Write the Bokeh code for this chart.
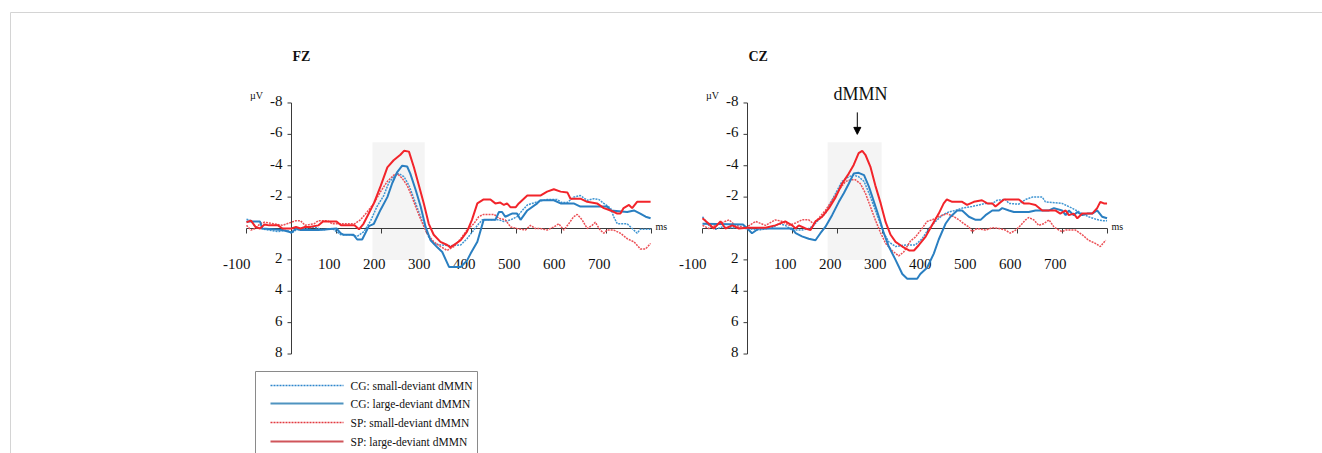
from bokeh.plotting import figure
from bokeh.models import Range1d, Arrow, NormalHead
from bokeh.core.properties import value
from bokeh.embed import file_html
from bokeh.resources import INLINE

# ---------------- data (ms, microvolts; negative plotted upward) ----------------
x_tick_labels = [-100, 100, 200, 300, 400, 500, 600, 700]
x_tick_marks = [-100, 100, 200, 300, 400, 500, 600, 700, 800]
y_tick_labels = [-8, -6, -4, -2, 2, 4, 6, 8]

series_names = ["CG: small-deviant dMMN", "CG: large-deviant dMMN",
                "SP: small-deviant dMMN", "SP: large-deviant dMMN"]

fz_window = [180, 296]
cz_window = [178, 298]
window_uv = [-5.5, 2.0]

# FZ
fz_cg_large_t = [-100, -70, -65, -20, 0, 10, 20, 60, 100, 109, 116, 138, 146, 157, 164, 172, 183, 198, 213, 224,
                 235, 246, 257, 264, 276, 287, 298, 309, 324, 335, 350, 376, 390, 398, 413, 427, 453, 461, 468, 475,
                 490, 501, 509, 524, 546, 553, 583, 598, 627, 642, 701, 709, 746, 761, 775, 787, 798]
fz_cg_large_v = [-0.45, -0.45, 0, 0.1, 0.25, 0, 0.1, 0.1, 0, 0.3, 0.4, 0.4, 0.7, 0.7, 0.3, -0.15, -0.3, -1.2, -2.0, -2.9,
                 -3.6, -4.0, -3.95, -3.5, -2.45, -1.4, -0.1, 0.75, 1.2, 1.5, 2.45, 2.45, 2.05, 1.6, 0.85, -0.55, -0.55, -1.05, -1.05, -0.75,
                 -0.95, -0.95, -0.55, -1.15, -1.6, -1.8, -1.8, -1.6, -1.6, -1.4, -1.4, -1.15, -1.05, -1.15, -0.95, -0.75, -0.65]

fz_sp_large_t = [-100, -90, -80, -70, -60, -50, -30, -20, 0, 10, 20, 30, 40, 60, 70, 100, 110, 140, 150, 160,
                 168, 183, 198, 213, 227, 242, 250, 261, 272, 283, 294, 305, 316, 331, 346, 353, 376, 390, 401, 413,
                 427, 442, 453, 464, 472, 479, 487, 498, 505, 524, 553, 568, 583, 598, 613, 620, 642, 657, 679, 694,
                 709, 724, 731, 738, 750, 757, 768, 798]
fz_sp_large_v = [-0.4, -0.5, -0.1, 0, -0.25, -0.2, -0.2, 0, 0, -0.1, 0, -0.1, -0.1, -0.2, -0.45, -0.45, -0.2, -0.2, 0.05, -0.3,
                 -0.75, -1.6, -2.7, -3.9, -4.35, -4.7, -4.95, -4.9, -3.9, -2.75, -1.6, -0.3, 0.4, 0.85, 1.05, 1.2, 0.75, 0.2, -0.55, -1.6,
                 -1.85, -1.85, -1.6, -1.65, -1.5, -1.6, -1.35, -1.35, -1.6, -2.1, -2.1, -2.35, -2.5, -2.35, -2.3, -1.9, -1.9, -1.7, -1.6, -1.3,
                 -1.15, -0.95, -0.95, -1.3, -1.5, -1.3, -1.7, -1.7]

fz_cg_small_t = [-100, -90, -80, -70, -50, -30, -10, 0, 10, 30, 50, 70, 90, 100, 110, 130, 146, 161, 176, 190,
                 205, 216, 227, 238, 250, 261, 272, 283, 294, 305, 316, 331, 353, 376, 390, 405, 416, 424, 446, 461,
                 472, 487, 501, 513, 524, 546, 568, 590, 601, 613, 627, 642, 657, 672, 683, 694, 709, 716, 724, 746,
                 757, 768, 775, 798]
fz_cg_small_v = [-0.6, -0.5, -0.1, 0, 0.1, 0.2, 0.1, 0.3, 0.1, 0, -0.1, 0.1, 0, 0.2, 0.4, 0.4, 0.5, 0.2, -0.5, -1.4,
                 -2.1, -2.9, -3.3, -3.5, -3.3, -2.75, -1.9, -1.05, -0.2, 0.55, 0.95, 1.05, 1.1, 1.05, 0.65, 0.1, -0.3, -0.55, -0.55, -0.55,
                 -0.45, -0.55, -0.75, -1.15, -1.5, -1.7, -1.85, -1.85, -1.65, -1.65, -2.0, -2.1, -1.8, -1.9, -1.85, -1.6, -1.3, -0.75, -0.3, -0.3,
                 0, 0.3, 0.05, 0.05]

fz_sp_small_t = [-100, -90, -80, -70, -60, -40, -20, 0, 10, 20, 30, 50, 60, 80, 90, 100, 120, 140, 153, 168,
                 183, 198, 213, 227, 235, 246, 257, 268, 279, 290, 301, 316, 331, 346, 361, 376, 390, 405, 416, 427,
                 450, 461, 475, 487, 501, 520, 531, 542, 553, 568, 583, 594, 605, 616, 627, 635, 646, 657, 668, 675,
                 686, 694, 701, 716, 731, 746, 761, 775, 787, 798]
fz_sp_small_v = [-0.2, 0.1, 0, -0.3, -0.4, -0.3, -0.2, -0.4, -0.5, -0.5, -0.2, -0.3, -0.5, -0.5, -0.3, -0.3, -0.3, -0.3, -0.55, -1.05,
                 -1.6, -2.35, -3.0, -3.4, -3.5, -3.2, -2.75, -2.0, -1.15, -0.4, 0.3, 0.85, 1.15, 1.4, 1.15, 0.65, 0.1, -0.3, -0.75, -0.9,
                 -0.9, -0.65, -0.55, -0.1, 0, 0.1, -0.2, 0, 0, 0.1, -0.1, -0.3, 0.1, -0.3, -0.75, -0.9, -0.55, 0, -0.2, -0.4,
                 0.1, 0.3, 0.1, 0.1, 0.3, 0.65, 0.85, 1.3, 1.3, 0.95]

# CZ
cz_cg_large_t = [-100, -10, 3, 10, 25, 50, 99, 107, 121, 136, 151, 162, 173, 188, 203, 214, 225, 236, 247, 259,
                 270, 281, 292, 303, 314, 329, 344, 355, 377, 384, 399, 414, 425, 440, 451, 466, 477, 492, 507, 518,
                 529, 544, 559, 566, 581, 592, 625, 640, 670, 681, 699, 707, 714, 725, 733, 744, 755, 766, 777, 788,
                 799]
cz_cg_large_v = [-0.3, -0.25, 0.1, 0.3, 0, 0, 0, 0.3, 0.5, 0.65, 0.75, 0.3, -0.1, -0.85, -1.7, -2.25, -2.85, -3.5, -3.55, -3.4,
                 -2.65, -1.7, -0.75, 0.3, 1.15, 2.0, 2.9, 3.2, 3.2, 2.9, 2.5, 1.6, 0.7, -0.3, -0.75, -1.15, -1.15, -0.75, -0.55, -0.55,
                 -0.85, -1.15, -1.15, -1.3, -1.15, -1.05, -1.05, -1.15, -1.15, -1.3, -1.15, -0.85, -1.15, -0.85, -1.05, -0.85, -0.95, -0.95, -1.15, -0.75,
                 -0.65]

cz_sp_large_t = [-100, -86, -75, -60, -49, -34, -19, 0, 40, 62, 84, 99, 107, 114, 129, 140, 151, 166, 181, 196,
                 210, 225, 236, 247, 255, 262, 273, 284, 296, 307, 318, 329, 344, 359, 370, 381, 395, 410, 425, 436,
                 443, 455, 477, 488, 503, 521, 533, 544, 551, 559, 570, 603, 614, 625, 640, 655, 684, 695, 707, 714,
                 725, 733, 744, 766, 777, 784, 792, 799]
cz_sp_large_v = [-0.65, -0.3, 0, -0.45, 0, -0.2, 0, -0.05, -0.05, -0.2, -0.45, -0.2, 0, -0.2, 0, 0.1, -0.45, -0.75, -1.3, -2.0,
                 -2.85, -3.5, -4.05, -4.8, -4.95, -4.7, -3.95, -2.75, -1.6, -0.4, 0.4, 0.85, 1.15, 1.4, 1.4, 1.05, 0.55, -0.2, -0.95, -1.6,
                 -1.85, -1.7, -1.7, -1.5, -1.7, -1.8, -1.6, -1.6, -1.4, -1.6, -1.85, -1.85, -1.6, -1.6, -1.5, -1.15, -1.15, -0.95, -1.15, -0.85,
                 -0.95, -0.65, -0.95, -0.95, -1.3, -1.7, -1.6, -1.6]

cz_cg_small_t = [-100, -86, -71, -56, -41, 0, 25, 55, 70, 84, 99, 121, 136, 147, 158, 173, 184, 196, 210, 225,
                 236, 247, 259, 270, 281, 292, 303, 314, 329, 351, 373, 388, 403, 418, 433, 447, 462, 477, 499, 529,
                 544, 555, 573, 581, 603, 618, 633, 655, 662, 699, 721, 744, 758, 773, 788, 799]
cz_cg_small_v = [-0.75, -0.2, 0.05, -0.1, -0.05, 0, 0.1, -0.05, -0.3, -0.2, 0.1, 0.1, 0, -0.2, -0.55, -0.95, -1.6, -2.25, -3.0, -3.3,
                 -3.4, -3.3, -3.0, -2.25, -1.4, -0.55, 0.3, 0.85, 1.15, 1.05, 1.05, 0.65, 0, -0.45, -0.85, -1.05, -1.15, -1.3, -1.4, -1.6,
                 -1.6, -1.8, -1.85, -1.6, -1.55, -1.85, -2.0, -2.0, -1.7, -1.6, -1.3, -0.95, -0.75, -0.6, -0.5, -0.5]

cz_sp_small_t = [-100, -86, -63, -41, -27, -4, 18, 40, 62, 77, 92, 107, 121, 136, 147, 158, 173, 188, 203, 218,
                 229, 240, 251, 262, 273, 284, 296, 307, 321, 336, 347, 362, 373, 388, 399, 410, 425, 443, 459, 470,
                 481, 492, 499, 510, 529, 544, 559, 573, 584, 596, 607, 618, 625, 636, 647, 658, 670, 681, 692, 699,
                 707, 729, 744, 758, 773, 784, 796]
cz_sp_small_v = [-0.2, 0, -0.3, -0.55, -0.2, -0.05, -0.45, -0.2, -0.55, -0.45, -0.2, -0.35, -0.55, -0.55, -0.3, -0.65, -1.15, -1.8, -2.45, -3.0,
                 -3.1, -3.1, -2.85, -2.25, -1.4, -0.55, 0.3, 0.95, 1.4, 1.75, 1.5, 0.8, 0.55, 0, -0.45, -0.55, -0.75, -0.95, -0.75, -0.55,
                 -0.3, -0.1, 0.2, 0, 0.1, -0.05, 0, 0.1, 0.3, 0.1, -0.2, -0.55, -0.7, -0.55, -0.2, -0.3, -0.55, -0.1, 0.1, 0.2,
                 0.1, 0.1, 0.4, 0.75, 0.95, 1.15, 0.75]

# ---------------- layout / style ----------------
W, H = 1322, 453
PX_MS = 0.45      # pixels per ms
PX_UV = 15.69     # pixels per microvolt
Y0 = 228          # pixel row of 0 uV
FZ_X0 = 291       # pixel column of 0 ms (FZ)
CZ_X0 = 747       # pixel column of 0 ms (CZ)

SERIF = value("Liberation Serif")
BLUE = "#2a7fc1"
BLUE_DOT = "#3f95d2"
RED = "#f2242a"
RED_DOT = "#ec4f55"
AXIS = "#3a3a3a"

p = figure(width=W, height=H, output_backend="svg", toolbar_location=None,
           x_range=Range1d(0, W), y_range=Range1d(H, 0),
           x_axis_location=None, y_axis_location=None, min_border=0)
p.outline_line_color = None
p.background_fill_color = "white"
p.border_fill_color = "white"
p.grid.visible = False

p.extra_x_ranges = {
    "fz": Range1d(-FZ_X0 / PX_MS, (W - FZ_X0) / PX_MS),
    "cz": Range1d(-CZ_X0 / PX_MS, (W - CZ_X0) / PX_MS),
}
p.extra_y_ranges = {"uv": Range1d((H - Y0) / PX_UV, -Y0 / PX_UV)}

# outer frame (page-level decoration, pixel coordinates)
p.segment(x0=[10, 10], y0=[12, 12], x1=[W, 10], y1=[12, H], line_color="#d4d4d4", line_width=1)

panels = [
    ("fz", "FZ", fz_window,
     [(fz_cg_small_t, fz_cg_small_v), (fz_sp_small_t, fz_sp_small_v),
      (fz_cg_large_t, fz_cg_large_v), (fz_sp_large_t, fz_sp_large_v)]),
    ("cz", "CZ", cz_window,
     [(cz_cg_small_t, cz_cg_small_v), (cz_sp_small_t, cz_sp_small_v),
      (cz_cg_large_t, cz_cg_large_v), (cz_sp_large_t, cz_sp_large_v)]),
]
styles = [
    dict(line_color=BLUE_DOT, line_width=1.5, line_dash="2 1"),
    dict(line_color=RED_DOT, line_width=1.5, line_dash="2 1"),
    dict(line_color=BLUE, line_width=2.0),
    dict(line_color=RED, line_width=2.0),
]

tick_ms = 4 / PX_MS
tick_uv = 5 / PX_UV

for rn, title, win, data in panels:
    kw = dict(x_range_name=rn, y_range_name="uv")
    # dMMN window shading
    p.quad(left=[win[0]], right=[win[1]], top=[window_uv[0]], bottom=[window_uv[1]],
           fill_color="#f4f4f4", line_color=None, **kw)
    # axes
    p.segment(x0=[x_tick_marks[0], 0], y0=[0, y_tick_labels[0]],
              x1=[x_tick_marks[-1], 0], y1=[0, y_tick_labels[-1]],
              line_color=AXIS, line_width=1, **kw)
    p.segment(x0=x_tick_marks, y0=[0] * len(x_tick_marks),
              x1=x_tick_marks, y1=[tick_uv] * len(x_tick_marks),
              line_color=AXIS, line_width=1, **kw)
    p.segment(x0=[0] * len(y_tick_labels), y0=y_tick_labels,
              x1=[-tick_ms] * len(y_tick_labels), y1=y_tick_labels,
              line_color=AXIS, line_width=1, **kw)
    # tick labels
    p.text(x=x_tick_labels, y=[0] * len(x_tick_labels), text=[str(v) for v in x_tick_labels],
           text_align="right", text_baseline="alphabetic", x_offset=4, y_offset=35,
           text_font=SERIF, text_font_size="15px", text_color="#111111", **kw)
    p.text(x=[0] * len(y_tick_labels), y=y_tick_labels, text=[str(v) for v in y_tick_labels],
           text_align="right", text_baseline="middle", x_offset=-9, y_offset=-2,
           text_font=SERIF, text_font_size="15px", text_color="#111111", **kw)
    # units and title
    p.text(x=[0], y=[y_tick_labels[0]], text=["µV"], text_align="center", text_baseline="middle",
           x_offset=-35, y_offset=-7, text_font=SERIF, text_font_size="10px", text_color="#111111", **kw)
    p.text(x=[x_tick_marks[-1]], y=[0], text=["ms"], text_align="left", text_baseline="middle",
           x_offset=4, y_offset=-2, text_font=SERIF, text_font_size="10px", text_color="#111111", **kw)
    p.text(x=[0], y=[y_tick_labels[0]], text=[title], text_align="left", text_baseline="middle",
           x_offset=1, y_offset=-46, text_font=SERIF, text_font_size="14px", text_font_style="bold",
           text_color="#111111", **kw)
    # waveforms
    for (t, v), st in zip(data, styles):
        p.line(t, v, **st, **kw)

# dMMN annotation on CZ
p.text(x=[251], y=[y_tick_labels[0]], text=["dMMN"], text_align="center", text_baseline="middle",
       y_offset=-9, text_font=SERIF, text_font_size="18px", text_color="#111111",
       x_range_name="cz", y_range_name="uv")
p.add_layout(Arrow(end=NormalHead(size=7, fill_color="black", line_color="black"),
                   x_start=244, y_start=-7.4, x_end=244, y_end=-6.0,
                   line_color="black", line_width=1,
                   x_range_name="cz", y_range_name="uv"))

# legend box (pixel coordinates)
p.quad(left=[255], right=[477], top=[371], bottom=[470], fill_color=None,
       line_color="#8a8a8a", line_width=1)
rows_y = [385, 403, 422, 441]
legend_styles = [
    dict(line_color="#2f86cc", line_width=1.3, line_dash="2 1"),
    dict(line_color="#4f93c0", line_width=2.2),
    dict(line_color="#e23a40", line_width=1.3, line_dash="2 1"),
    dict(line_color="#d0555a", line_width=2.2),
]
for (name, st, ry) in zip(series_names, legend_styles, rows_y):
    p.line([270, 343], [ry, ry], **st)
    p.text(x=[350], y=[ry], text=[name], text_align="left", text_baseline="middle",
           text_font=SERIF, text_font_size="11.5px", text_color="#111111")

open("out.html", "w").write(file_html(p, INLINE, title="dMMN waveforms"))
